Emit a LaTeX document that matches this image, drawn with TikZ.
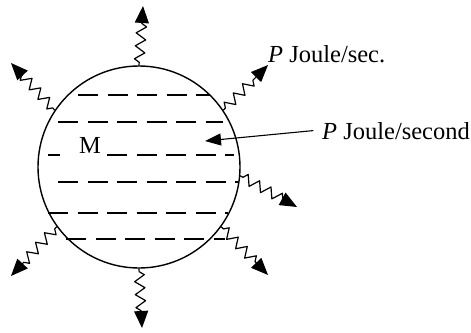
\documentclass[tikz,border=0pt]{standalone}
\usepackage{fontspec}
\setmainfont{Liberation Serif}
\usetikzlibrary{arrows.meta,decorations.pathmorphing}

\begin{document}
\begin{tikzpicture}[x=1pt, y=-1pt, line cap=round, line join=round,
    wave/.style={line width=1.2pt, -{Triangle[length=17pt,width=14pt]}, decorate,
      decoration={zigzag, segment length=13pt, amplitude=5pt, pre length=3pt, post length=15pt}},
    dashline/.style={line width=2.3pt, line cap=butt, dash pattern=on 20pt off 9.5pt},
    lbl/.style={font=\fontsize{24.5}{28}\selectfont, inner sep=0pt}]

    \useasboundingbox (0,0) rectangle (471,332);

    % geometry (pixels of the figure)
    \def\R{101}     % radius of the body
    \def\cx{139}    % centre x
    \def\cy{167}    % centre y

    % the body
    \node[draw, circle, line width=1.4pt, minimum size=2*\R pt, inner sep=0pt] (body) at (\cx,\cy) {};

    % dashed layers
    \foreach \y/\xa/\xb in {95/78/210, 122/58/223, 182/58/238, 213/48/228, 239/66/225}
        \draw[dashline] (\xa,\y) -- (\xb,\y);
    \draw[dashline] (48,155) -- (60,155);
    \draw[dashline] (107,155) -- (234,155);
    \node[lbl, anchor=base] (mass) at (90,153) {M};

    % ends of the emitted radiation
    \coordinate (tN)  at (143,6);
    \coordinate (tNW) at (11,63);
    \coordinate (tNE) at (268,65);
    \coordinate (tE)  at (297,207);
    \coordinate (tSE) at (268,275);
    \coordinate (tS)  at (142,328);
    \coordinate (tSW) at (11,276);

    % emitted radiation (wavy arrows)
    \foreach \a/\t in {90/tN, 146/tNW, 34/tNE, -5/tE, -36/tSE, -90/tS, 216/tSW}
        \draw[wave] (body.\a) -- (\t);

    % labels
    \node[lbl, anchor=base west] (emit) at (268,62) {\textit{P} Joule/sec.};
    \node[lbl, anchor=base west, inner xsep=9pt] (absorb) at (313,139) {\textit{P} Joule/second};

    % absorbed power
    \coordinate (tIn) at (205,141);
    \draw[line width=1.1pt, -{Triangle[length=16pt,width=12pt]}] (absorb.west) -- (tIn);

\end{tikzpicture}
\end{document}
